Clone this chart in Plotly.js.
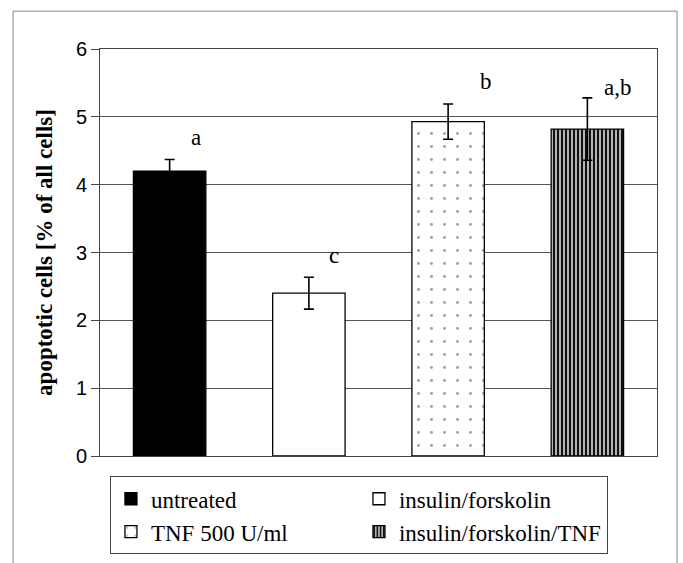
<!DOCTYPE html>
<html>
<head>
<meta charset="utf-8">
<script src="https://cdn.plot.ly/plotly-3.0.1.min.js"></script>
<style>html,body{margin:0;padding:0;background:#fff;}#chart{width:683px;height:563px;}</style>
</head>
<body>
<div id="chart"></div>
<script>
var groups = ["untreated", "insulin/forskolin", "TNF 500 U/ml", "insulin/forskolin/TNF"];
var values = [4.20, 2.40, 4.93, 4.82];
var errors = [0.17, 0.235, 0.26, 0.46];
var letters = ["a", "c", "b", "a,b"];
var yTicks = [0, 1, 2, 3, 4, 5, 6];

var fills = ["#000000", "#ffffff", "#ffffff", "#a8a8a8"];
var patterns = [
  {shape: ""},
  {shape: ""},
  {shape: ".", fgcolor: "#a0a0a0", bgcolor: "#ffffff", size: 13, solidity: 0.04},
  {shape: "|", fgcolor: "#000000", bgcolor: "#b4b4b4", size: 4, solidity: 0.45}
];

var traces = groups.map(function (g, i) {
  return {
    type: "bar",
    name: g,
    x: [i],
    y: [values[i]],
    width: 0.52,
    marker: {color: fills[i], pattern: patterns[i], line: {color: "#000", width: 1.3}},
    error_y: {type: "data", array: [errors[i]], visible: true, color: "#000", thickness: 1.6, width: 5}
  };
});

var annXShift = [26, 25, 38, 30];
var annYShift = [22, 22, 22, 10];
var annotations = letters.map(function (t, i) {
  return {
    x: i, y: values[i] + errors[i], xref: "x", yref: "y",
    text: t, showarrow: false, xshift: annXShift[i], yshift: annYShift[i],
    font: {family: "Liberation Serif", size: 23, color: "#000"}
  };
});

var layout = {
  width: 683, height: 563,
  margin: {l: 100, r: 26, t: 49, b: 107},
  paper_bgcolor: "#fff", plot_bgcolor: "#fff",
  showlegend: true,
  bargap: 0.48,
  xaxis: {
    type: "linear", range: [-0.5, 3.5], showticklabels: false, ticks: "",
    showgrid: false, zeroline: false, showline: true, linecolor: "#444", linewidth: 1, mirror: true
  },
  yaxis: {
    range: [0, 6], tickvals: yTicks, ticktext: yTicks.map(String),
    ticks: "outside", ticklen: 8, tickcolor: "#444",
    showline: true, linecolor: "#444", linewidth: 1, mirror: true,
    showgrid: true, gridcolor: "#555", gridwidth: 1, zeroline: false,
    tickfont: {family: "Liberation Sans, Arial, sans-serif", size: 20, color: "#000"},
    title: {text: "<b>apoptotic cells [% of all cells]</b>", standoff: 16,
      font: {family: "Liberation Serif", size: 23, color: "#000"}}
  },
  legend: {
    orientation: "h", xref: "container", yref: "container",
    x: 0.161, xanchor: "left", y: 0.154, yanchor: "top",
    entrywidth: 203, entrywidthmode: "pixels",
    bordercolor: "#444", borderwidth: 1, bgcolor: "#fff",
    font: {family: "Liberation Serif", size: 23, color: "#000"},
    traceorder: "normal"
  },
  annotations: annotations,
  shapes: [
    {type: "rect", xref: "paper", yref: "paper", x0: -0.156, x1: 1.036, y0: -0.3, y1: 1.093,
     line: {color: "#888", width: 1}, layer: "below"}
  ]
};

Plotly.newPlot("chart", traces, layout, {displayModeBar: false, staticPlot: true});
</script>
</body>
</html>
